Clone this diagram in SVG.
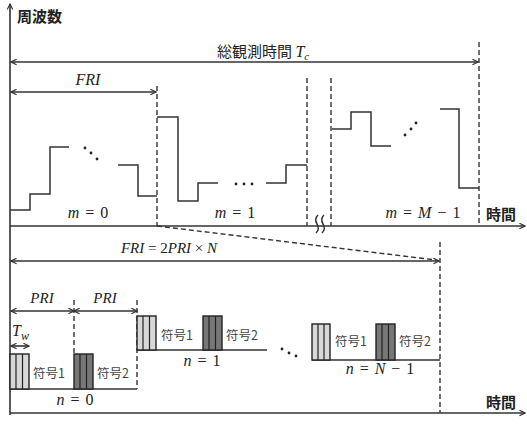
<svg xmlns="http://www.w3.org/2000/svg" width="527" height="424" viewBox="0 0 527 424">
<style>
.ax{stroke:#333;stroke-width:1.6;fill:none}
.wv{stroke:#333;stroke-width:1.5;fill:none}
.ds{stroke:#333;stroke-width:1.4;fill:none;stroke-dasharray:5,3}
.jp{font-family:"Noto Sans CJK JP",sans-serif;font-weight:bold;font-size:15px;fill:#222}
.sym{font-family:"Noto Sans CJK JP",sans-serif;font-size:12.5px;fill:#444}
.m{font-family:"Liberation Serif",serif;font-size:15px;fill:#222}
.lb{font-family:"Liberation Serif",serif;font-size:16px;fill:#222;word-spacing:2px}
.it{font-style:italic}
.p1{fill:#d8d8d8;stroke:#222;stroke-width:1.4}
.p2{fill:#777;stroke:#222;stroke-width:1.4}
.st{stroke:#222;stroke-width:1.2}
.dot{fill:#222}
</style>
<defs>
<marker id="ah" viewBox="0 0 10 10" refX="9" refY="5" markerWidth="7" markerHeight="7" orient="auto-start-reverse" markerUnits="userSpaceOnUse">
<path d="M1,1 L9,5 L1,9" fill="none" stroke="#333" stroke-width="1.6"/>
</marker>
</defs>

<g id="connectors">
<line class="ax" x1="10" y1="415" x2="10" y2="4" marker-end="url(#ah)"/>
<line class="ax" x1="10" y1="226" x2="525" y2="226" marker-end="url(#ah)"/>
<line class="ax" x1="10" y1="413" x2="525" y2="413" marker-end="url(#ah)"/>
<line class="ax" x1="11" y1="62" x2="478" y2="62" marker-start="url(#ah)" marker-end="url(#ah)"/>
<line class="ax" x1="11" y1="92" x2="156" y2="92" marker-start="url(#ah)" marker-end="url(#ah)"/>
<line class="ax" x1="11" y1="261" x2="439" y2="261" marker-start="url(#ah)" marker-end="url(#ah)"/>
<line class="ax" x1="11" y1="311" x2="74" y2="311" marker-start="url(#ah)" marker-end="url(#ah)"/>
<line class="ax" x1="74" y1="311" x2="137" y2="311" marker-start="url(#ah)" marker-end="url(#ah)"/>
<line class="ax" x1="11" y1="346" x2="29" y2="346" stroke-width="1.3" marker-start="url(#ah)" marker-end="url(#ah)"/>
<line class="ds" x1="479" y1="42" x2="479" y2="226"/>
<line class="ds" x1="157" y1="86" x2="157" y2="226"/>
<line class="ds" x1="307" y1="78" x2="307" y2="226"/>
<line class="ds" x1="331" y1="78" x2="331" y2="226"/>
<line class="ds" x1="157" y1="226" x2="436" y2="260"/>
<line class="ds" x1="440" y1="242" x2="440" y2="413"/>
<line class="ds" x1="74" y1="300" x2="74" y2="354"/>
<line class="ds" x1="137" y1="300" x2="137" y2="389"/>
<path class="wv" stroke-width="1" d="M318,215 q-4,4 -1,9 q3,5 -1,9 M324,215 q-4,4 -1,9 q3,5 -1,9"/>
</g>

<g id="labels">
<text class="jp" x="17" y="22">周波数</text>
<text class="jp" x="486" y="220">時間</text>
<text class="jp" x="486" y="408">時間</text>
<text x="217" y="57"><tspan class="jp" style="font-weight:normal">総観測時間 </tspan><tspan class="m it" style="font-size:16px">T</tspan><tspan class="m it" style="font-size:11px" dy="3">c</tspan></text>
<text class="lb it" x="88" y="85" text-anchor="middle">FRI</text>
<text class="m" x="169" y="253" text-anchor="middle"><tspan class="it">FRI</tspan> = 2<tspan class="it">PRI</tspan> × <tspan class="it">N</tspan></text>
<text class="m it" x="42" y="303" text-anchor="middle">PRI</text>
<text class="m it" x="105" y="303" text-anchor="middle">PRI</text>
<text x="12" y="336"><tspan class="m it" style="font-size:16px">T</tspan><tspan class="m it" style="font-size:12px" dy="4">w</tspan></text>
</g>

<g id="wave-m0">
<polyline class="wv" points="10,210 30,210 30,194 50,194 50,147 69,147"/>
<circle class="dot" cx="85" cy="148" r="1.4"/><circle class="dot" cx="91" cy="153" r="1.4"/><circle class="dot" cx="97" cy="159" r="1.4"/>
<polyline class="wv" points="118,165 138,165 138,196 157,196"/>
<text class="lb" x="88" y="218" text-anchor="middle"><tspan class="it">m</tspan> = 0</text>
</g>

<g id="wave-m1">
<polyline class="wv" points="157,117 178,117 178,201 198,201 198,183 218,183"/>
<circle class="dot" cx="236" cy="184" r="1.4"/><circle class="dot" cx="244" cy="184" r="1.4"/><circle class="dot" cx="252" cy="184" r="1.4"/>
<polyline class="wv" points="266,183 286,183 286,165 307,165"/>
<text class="lb" x="235" y="218" text-anchor="middle"><tspan class="it">m</tspan> = 1</text>
</g>

<g id="wave-mM">
<polyline class="wv" points="332,129 351,129 351,112 371,112 371,146 391,146"/>
<circle class="dot" cx="405" cy="135" r="1.4"/><circle class="dot" cx="411" cy="129" r="1.4"/><circle class="dot" cx="416" cy="123" r="1.4"/>
<polyline class="wv" points="440,109 459,109 459,188 479,188"/>
<text class="lb" x="423" y="218" text-anchor="middle"><tspan class="it">m</tspan> = <tspan class="it">M</tspan> − 1</text>
</g>

<g id="pulse-n0">
<line class="wv" x1="10" y1="389" x2="137" y2="389"/>
<rect class="p1" x="10" y="354" width="19" height="35"/>
<line class="st" x1="16" y1="354" x2="16" y2="389"/><line class="st" x1="22.5" y1="354" x2="22.5" y2="389"/>
<rect class="p2" x="74" y="354" width="19" height="35"/>
<line class="st" x1="80" y1="354" x2="80" y2="389"/><line class="st" x1="86.5" y1="354" x2="86.5" y2="389"/>
<text class="sym" x="33" y="378">符号1</text>
<text class="sym" x="97" y="378">符号2</text>
<text class="lb" x="75" y="405" text-anchor="middle"><tspan class="it">n</tspan> = 0</text>
</g>

<g id="pulse-n1">
<line class="wv" x1="137" y1="350" x2="267" y2="350"/>
<rect class="p1" x="137" y="316" width="19" height="34"/>
<line class="st" x1="143" y1="316" x2="143" y2="350"/><line class="st" x1="149.5" y1="316" x2="149.5" y2="350"/>
<rect class="p2" x="203" y="316" width="19" height="34"/>
<line class="st" x1="209" y1="316" x2="209" y2="350"/><line class="st" x1="215.5" y1="316" x2="215.5" y2="350"/>
<text class="sym" x="161" y="340">符号1</text>
<text class="sym" x="226" y="340">符号2</text>
<text class="lb" x="202" y="366" text-anchor="middle"><tspan class="it">n</tspan> = 1</text>
</g>

<g id="dots-n">
<circle class="dot" cx="282" cy="349" r="1.4"/><circle class="dot" cx="289" cy="353" r="1.4"/><circle class="dot" cx="296" cy="356" r="1.4"/>
</g>

<g id="pulse-nN">
<line class="wv" x1="312" y1="360" x2="440" y2="360"/>
<rect class="p1" x="312" y="324" width="18" height="36"/>
<line class="st" x1="318" y1="324" x2="318" y2="360"/><line class="st" x1="324" y1="324" x2="324" y2="360"/>
<rect class="p2" x="376" y="324" width="19" height="36"/>
<line class="st" x1="382" y1="324" x2="382" y2="360"/><line class="st" x1="388.5" y1="324" x2="388.5" y2="360"/>
<text class="sym" x="335" y="346">符号1</text>
<text class="sym" x="399" y="346">符号2</text>
<text class="lb" x="380" y="374" text-anchor="middle"><tspan class="it">n</tspan> = <tspan class="it">N</tspan> − 1</text>
</g>
</svg>
